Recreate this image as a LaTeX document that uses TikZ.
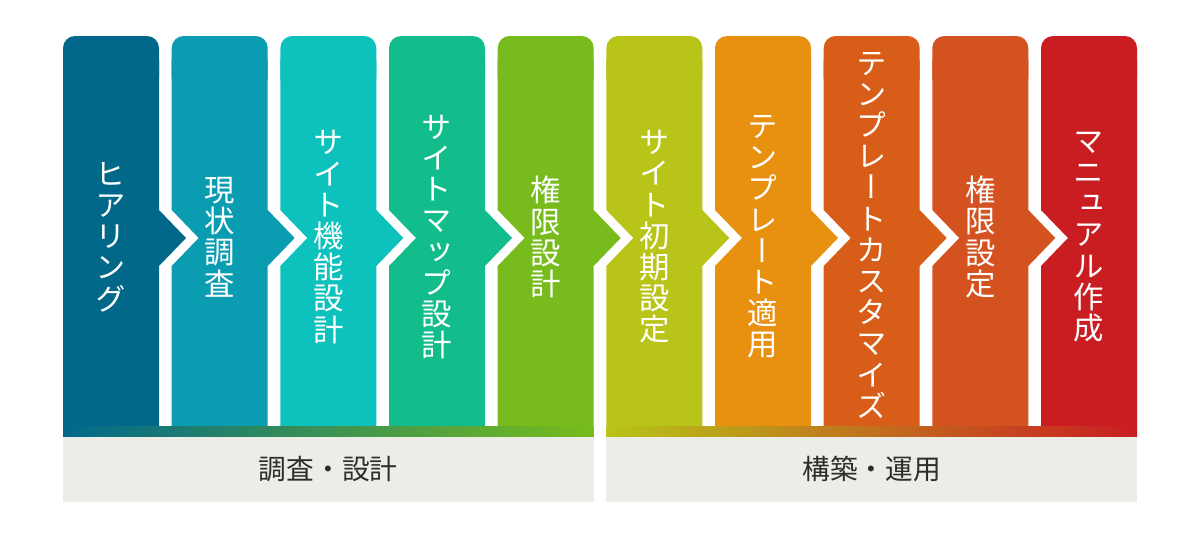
\documentclass[tikz,border=0pt]{standalone}
\usepackage{fontspec}
\newfontfamily\cjkv[RawFeature=+vert]{Noto Sans CJK JP}
\newfontfamily\cjkh{Noto Sans CJK JP}
\definecolor{c1}{RGB}{2,104,138}
\definecolor{c2}{RGB}{10,157,177}
\definecolor{c3}{RGB}{13,193,188}
\definecolor{c4}{RGB}{18,189,139}
\definecolor{c5}{RGB}{119,188,28}
\definecolor{c6}{RGB}{184,196,24}
\definecolor{c7}{RGB}{232,144,15}
\definecolor{c8}{RGB}{216,93,24}
\definecolor{c9}{RGB}{211,82,31}
\definecolor{c10}{RGB}{201,29,34}
\definecolor{boxgray}{RGB}{237,237,232}
\definecolor{labeltext}{RGB}{45,45,45}
\newcommand\colshape[4]{%
  \fill[#2, rounded corners=9pt] (#1,36) rectangle ({#1+96},90);
  \fill[#2] (#1,60) -- ({#1+96},60) -- ({#1+96},210) -- ({#1+96+#4},238) -- ({#1+96},266) -- ({#1+96},426) -- (#1,426) -- (#1,266) -- ({#1+#3},238) -- (#1,210) -- cycle;}
\tikzset{
  vlabel/.style={text=white, font=\cjkv\fontsize{22.8}{23.4}\selectfont, align=center, inner sep=0pt},
  seclabel/.style={text=labeltext, font=\cjkh\fontsize{20.8}{24}\selectfont, inner sep=0pt},
}
\begin{document}
\begin{tikzpicture}[x=0.75pt,y=-0.75pt]
\useasboundingbox (0,0) rectangle (1200,539);
\colshape{63}{c1}{0}{27}
\colshape{171.7}{c2}{27}{27}
\colshape{280.3}{c3}{27}{27}
\colshape{389}{c4}{27}{27}
\colshape{497.7}{c5}{27}{27}
\colshape{606.3}{c6}{27}{27}
\colshape{715}{c7}{27}{27}
\colshape{823.7}{c8}{27}{27}
\colshape{932.3}{c9}{27}{27}
\colshape{1041}{c10}{27}{0}
% bars
\shade[left color=c1, right color=c5] (63,426) rectangle (593.7,437);
\shade[left color=c6, right color=c10] (606.3,426) rectangle (1137,437);
\fill[boxgray] (63,437) rectangle (593.7,502);
\fill[boxgray] (606.3,437) rectangle (1137,502);
% texts
\node[vlabel] (t1) at (111,237) {ヒ\\ア\\リ\\ン\\グ};
\node[vlabel] (t2) at (219.7,237) {現\\状\\調\\査};
\node[vlabel] (t3) at (328.3,237) {サ\\イ\\ト\\機\\能\\設\\計};
\node[vlabel] (t4) at (437,237) {サ\\イ\\ト\\マ\\ッ\\プ\\設\\計};
\node[vlabel] (t5) at (545.7,237) {権\\限\\設\\計};
\node[vlabel] (t6) at (654.3,237) {サ\\イ\\ト\\初\\期\\設\\定};
\node[vlabel] (t7) at (763,237) {テ\\ン\\プ\\レ\\ー\\ト\\適\\用};
\node[vlabel] (t8) at (871.7,235) {テ\\ン\\プ\\レ\\ー\\ト\\カ\\ス\\タ\\マ\\イ\\ズ};
\node[vlabel] (t9) at (980.3,237) {権\\限\\設\\定};
\node[vlabel] (t10) at (1089,237) {マ\\ニ\\ュ\\ア\\ル\\作\\成};
\node[seclabel] (s1) at (328.3,469) {調査・設計};
\node[seclabel] (s2) at (871.7,469) {構築・運用};
\end{tikzpicture}
\end{document}
